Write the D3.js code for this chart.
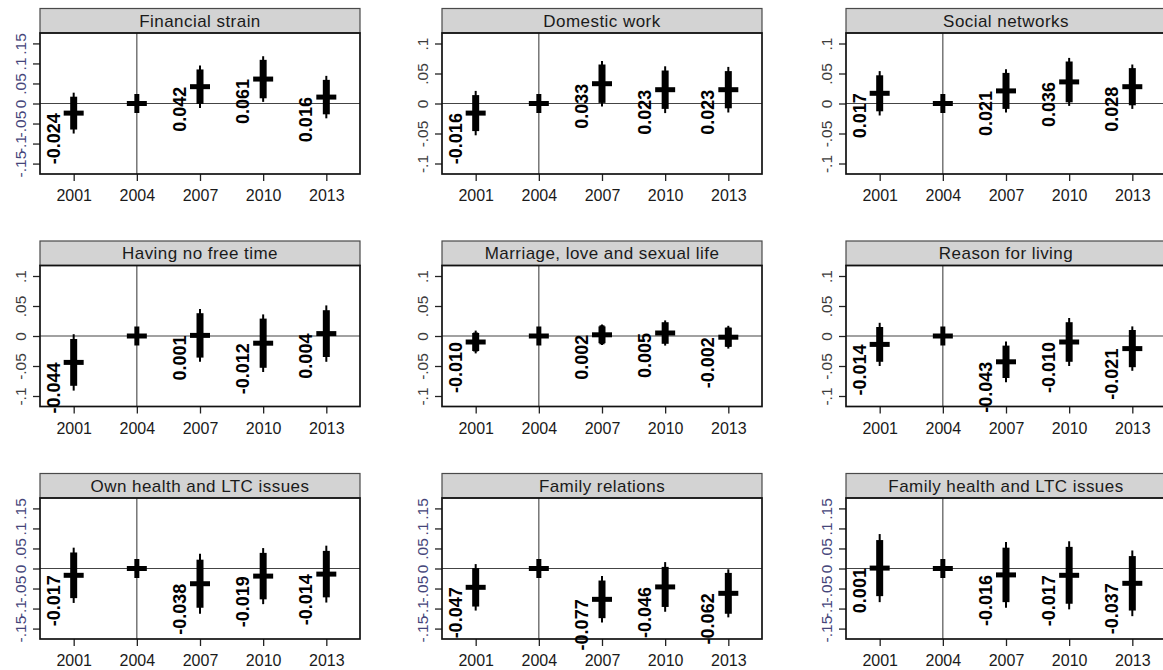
<!DOCTYPE html>
<html>
<head>
<meta charset="utf-8">
<script src="https://cdn.jsdelivr.net/npm/d3@7"></script>
<style>
  html, body { margin: 0; padding: 0; background: #fff; }
  svg { display: block; font-family: "Liberation Sans", Arial, sans-serif; }
</style>
</head>
<body>
<svg id="chart" width="1163" height="670"></svg>
<script>
// Survey waves on the x axis (2004 is the reference wave)
const years = [2001, 2004, 2007, 2010, 2013];

// Facet titles, row by row
const panelTitles = [
  "Financial strain", "Domestic work", "Social networks",
  "Having no free time", "Marriage, love and sexual life", "Reason for living",
  "Own health and LTC issues", "Family relations", "Family health and LTC issues"
];

// Point estimates per facet (one value per wave)
const estimates = [
  [-0.024, 0,  0.042,  0.061,  0.016],
  [-0.016, 0,  0.033,  0.023,  0.023],
  [ 0.017, 0,  0.021,  0.036,  0.028],
  [-0.044, 0,  0.001, -0.012,  0.004],
  [-0.010, 0,  0.002,  0.005, -0.002],
  [-0.014, 0, -0.043, -0.010, -0.021],
  [-0.017, 0, -0.038, -0.019, -0.014],
  [-0.047, 0, -0.077, -0.046, -0.062],
  [ 0.001, 0, -0.016, -0.017, -0.037]
];

// Half-widths of the inner (90%) intervals
const ci90Half = [
  [0.041, 0, 0.043, 0.048, 0.043],
  [0.030, 0, 0.032, 0.032, 0.031],
  [0.030, 0, 0.030, 0.034, 0.031],
  [0.039, 0, 0.037, 0.041, 0.039],
  [0.015, 0, 0.014, 0.018, 0.016],
  [0.029, 0, 0.027, 0.033, 0.031],
  [0.057, 0, 0.060, 0.058, 0.058],
  [0.048, 0, 0.047, 0.050, 0.051],
  [0.070, 0, 0.068, 0.071, 0.068]
];

// Half-widths of the outer (95%) intervals
const ci95Half = [
  [0.051, 0, 0.053, 0.057, 0.053],
  [0.037, 0, 0.038, 0.039, 0.038],
  [0.037, 0, 0.036, 0.040, 0.037],
  [0.047, 0, 0.044, 0.048, 0.047],
  [0.019, 0, 0.017, 0.021, 0.019],
  [0.036, 0, 0.034, 0.040, 0.037],
  [0.069, 0, 0.075, 0.070, 0.071],
  [0.058, 0, 0.058, 0.062, 0.060],
  [0.085, 0, 0.082, 0.085, 0.082]
];

// Y axis tick sets: wide facets and narrow facets
const ticksWide = [-0.15, -0.1, -0.05, 0, 0.05, 0.1, 0.15];
const ticksNarrow = [-0.1, -0.05, 0, 0.05, 0.1];
const panelIsWide = [true, false, false, false, false, false, true, true, true];

// ---- layout ----
const colLeft = [40, 442, 846];
const rowTop = [8.5, 241, 473.5];
const stripH = 24.5;
const plotW = 320, plotH = 141;
const wideLimit = 0.176, narrowLimit = 0.1175;

const svg = d3.select("#chart");
svg.append("rect").attr("width", 1163).attr("height", 670).attr("fill", "#fff");

const x = d3.scaleLinear().domain([1999.4, 2014.6]).range([0, plotW]);
// Stata-style ticks: no leading zero (".05", "-.1")
const fmtTick = v => v === 0 ? "0" : String(+v.toFixed(2)).replace("0.", ".");
// value labels with a plain hyphen as minus sign
const fmtLabel = d3.formatLocale({ decimal: ".", thousands: ",", grouping: [3], currency: ["", ""], minus: "-" }).format(".3f");

panelTitles.forEach((title, p) => {
  const r = Math.floor(p / 3), c = p % 3;
  const left = colLeft[c];
  const top = rowTop[r] + stripH;
  const wide = panelIsWide[p];
  const lim = wide ? wideLimit : narrowLimit;
  const y = d3.scaleLinear().domain([-lim, lim]).range([plotH, 0]);

  // strip header
  const strip = svg.append("g").attr("transform", `translate(${left},${rowTop[r]})`);
  strip.append("rect")
    .attr("width", plotW).attr("height", stripH)
    .attr("fill", "#d3d3d3").attr("stroke", "#4a4a4a").attr("stroke-width", 1.2);
  strip.append("text")
    .attr("x", plotW / 2).attr("y", stripH - 6.5)
    .attr("text-anchor", "middle")
    .attr("font-size", 17).attr("letter-spacing", 0.45)
    .attr("fill", "#1a1a1a")
    .text(title);

  const g = svg.append("g").attr("transform", `translate(${left},${top})`);

  // reference lines: zero effect and reference wave
  g.append("line")
    .attr("x1", 0).attr("x2", plotW)
    .attr("y1", y(0)).attr("y2", y(0))
    .attr("stroke", "#444").attr("stroke-width", 1.1);
  g.append("line")
    .attr("x1", x(2004)).attr("x2", x(2004))
    .attr("y1", 0).attr("y2", plotH)
    .attr("stroke", "#444").attr("stroke-width", 1.1);

  // y axis
  const yAxis = g.append("g")
    .call(d3.axisLeft(y).tickValues(wide ? ticksWide : ticksNarrow).tickSize(7).tickFormat(fmtTick));
  yAxis.select(".domain").remove();
  yAxis.selectAll(".tick line").attr("stroke", "#222").attr("stroke-width", 1.3);
  yAxis.selectAll(".tick text")
    .attr("x", null).attr("dy", null)
    .attr("transform", "translate(-20,0) rotate(-90)")
    .attr("text-anchor", "middle")
    .attr("dominant-baseline", "central")
    .attr("font-size", 15.5)
    .attr("font-family", "Liberation Sans, Arial, sans-serif")
    .attr("fill", wide ? "#45457a" : "#3c3c3c");

  // x axis
  const xAxis = g.append("g")
    .attr("transform", `translate(0,${plotH})`)
    .call(d3.axisBottom(x).tickValues(years).tickSize(7).tickFormat(d3.format("d")));
  xAxis.select(".domain").remove();
  xAxis.selectAll(".tick line").attr("stroke", "#222").attr("stroke-width", 1.3);
  xAxis.selectAll(".tick text")
    .attr("y", 27).attr("dy", null)
    .attr("font-size", 16)
    .attr("font-family", "Liberation Sans, Arial, sans-serif")
    .attr("fill", "#1a1a1a");

  // plot frame
  g.append("rect")
    .attr("width", plotW).attr("height", plotH)
    .attr("fill", "none").attr("stroke", "#111").attr("stroke-width", 1.7);

  const pts = years.map((yr, i) => ({
    yr, est: estimates[p][i], h90: ci90Half[p][i], h95: ci95Half[p][i]
  }));

  const mk = g.append("g");
  // outer interval
  mk.selectAll("line.ci95").data(pts.filter(d => d.h95 > 0)).join("line")
    .attr("class", "ci95")
    .attr("x1", d => x(d.yr)).attr("x2", d => x(d.yr))
    .attr("y1", d => y(d.est + d.h95)).attr("y2", d => y(d.est - d.h95))
    .attr("stroke", "#000").attr("stroke-width", 2);
  // inner interval
  mk.selectAll("line.ci90").data(pts.filter(d => d.h90 > 0)).join("line")
    .attr("class", "ci90")
    .attr("x1", d => x(d.yr)).attr("x2", d => x(d.yr))
    .attr("y1", d => y(d.est + d.h90)).attr("y2", d => y(d.est - d.h90))
    .attr("stroke", "#000").attr("stroke-width", 7);
  // plus markers at the estimate
  mk.selectAll("line.ph").data(pts).join("line")
    .attr("class", "ph")
    .attr("x1", d => x(d.yr) - 10).attr("x2", d => x(d.yr) + 10)
    .attr("y1", d => y(d.est)).attr("y2", d => y(d.est))
    .attr("stroke", "#000").attr("stroke-width", 5);
  mk.selectAll("line.pv").data(pts).join("line")
    .attr("class", "pv")
    .attr("x1", d => x(d.yr)).attr("x2", d => x(d.yr))
    .attr("y1", d => y(d.est) - 9.5).attr("y2", d => y(d.est) + 9.5)
    .attr("stroke", "#000").attr("stroke-width", 5);

  // value labels, rotated, ending at the estimate
  mk.selectAll("text.val").data(pts.filter(d => d.yr !== 2004)).join("text")
    .attr("class", "val")
    .attr("transform", d => `translate(${x(d.yr) - 20},${y(d.est)}) rotate(-90)`)
    .attr("text-anchor", "end")
    .attr("dominant-baseline", "central")
    .attr("font-size", 18).attr("font-weight", "bold")
    .attr("fill", "#000")
    .text(d => fmtLabel(d.est));
});
</script>
</body>
</html>
